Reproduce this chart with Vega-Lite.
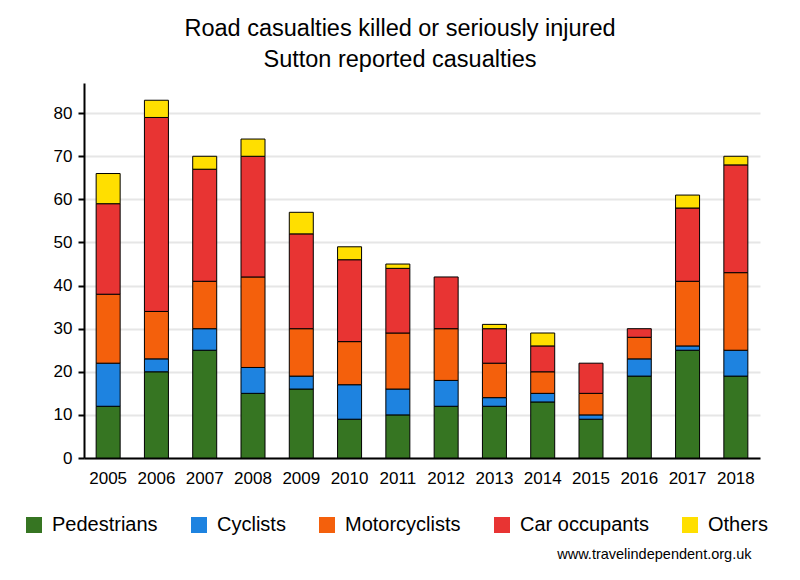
{
  "$schema": "https://vega.github.io/schema/vega-lite/v6.json",
  "width": 676,
  "height": 375,
  "autosize": "none",
  "padding": {"left": 84, "top": 83, "right": 40, "bottom": 122},
  "background": "white",
  "title": {
    "text": ["Road casualties killed or seriously injured", "Sutton reported casualties"],
    "font": "Liberation Sans",
    "fontSize": 23.5,
    "fontWeight": "normal",
    "color": "black",
    "lineHeight": 31,
    "anchor": "middle",
    "dx": -22,
    "offset": 12
  },
  "datasets": {
    "ranks": [
      {"type": "Pedestrians", "rank": 1},
      {"type": "Cyclists", "rank": 2},
      {"type": "Motorcyclists", "rank": 3},
      {"type": "Car occupants", "rank": 4},
      {"type": "Others", "rank": 5}
    ]
  },
  "data": {
    "values": [
      {"year": "2005", "type": "Pedestrians", "n": 12}, {"year": "2005", "type": "Cyclists", "n": 10}, {"year": "2005", "type": "Motorcyclists", "n": 16}, {"year": "2005", "type": "Car occupants", "n": 21}, {"year": "2005", "type": "Others", "n": 7},
      {"year": "2006", "type": "Pedestrians", "n": 20}, {"year": "2006", "type": "Cyclists", "n": 3}, {"year": "2006", "type": "Motorcyclists", "n": 11}, {"year": "2006", "type": "Car occupants", "n": 45}, {"year": "2006", "type": "Others", "n": 4},
      {"year": "2007", "type": "Pedestrians", "n": 25}, {"year": "2007", "type": "Cyclists", "n": 5}, {"year": "2007", "type": "Motorcyclists", "n": 11}, {"year": "2007", "type": "Car occupants", "n": 26}, {"year": "2007", "type": "Others", "n": 3},
      {"year": "2008", "type": "Pedestrians", "n": 15}, {"year": "2008", "type": "Cyclists", "n": 6}, {"year": "2008", "type": "Motorcyclists", "n": 21}, {"year": "2008", "type": "Car occupants", "n": 28}, {"year": "2008", "type": "Others", "n": 4},
      {"year": "2009", "type": "Pedestrians", "n": 16}, {"year": "2009", "type": "Cyclists", "n": 3}, {"year": "2009", "type": "Motorcyclists", "n": 11}, {"year": "2009", "type": "Car occupants", "n": 22}, {"year": "2009", "type": "Others", "n": 5},
      {"year": "2010", "type": "Pedestrians", "n": 9}, {"year": "2010", "type": "Cyclists", "n": 8}, {"year": "2010", "type": "Motorcyclists", "n": 10}, {"year": "2010", "type": "Car occupants", "n": 19}, {"year": "2010", "type": "Others", "n": 3},
      {"year": "2011", "type": "Pedestrians", "n": 10}, {"year": "2011", "type": "Cyclists", "n": 6}, {"year": "2011", "type": "Motorcyclists", "n": 13}, {"year": "2011", "type": "Car occupants", "n": 15}, {"year": "2011", "type": "Others", "n": 1},
      {"year": "2012", "type": "Pedestrians", "n": 12}, {"year": "2012", "type": "Cyclists", "n": 6}, {"year": "2012", "type": "Motorcyclists", "n": 12}, {"year": "2012", "type": "Car occupants", "n": 12},
      {"year": "2013", "type": "Pedestrians", "n": 12}, {"year": "2013", "type": "Cyclists", "n": 2}, {"year": "2013", "type": "Motorcyclists", "n": 8}, {"year": "2013", "type": "Car occupants", "n": 8}, {"year": "2013", "type": "Others", "n": 1},
      {"year": "2014", "type": "Pedestrians", "n": 13}, {"year": "2014", "type": "Cyclists", "n": 2}, {"year": "2014", "type": "Motorcyclists", "n": 5}, {"year": "2014", "type": "Car occupants", "n": 6}, {"year": "2014", "type": "Others", "n": 3},
      {"year": "2015", "type": "Pedestrians", "n": 9}, {"year": "2015", "type": "Cyclists", "n": 1}, {"year": "2015", "type": "Motorcyclists", "n": 5}, {"year": "2015", "type": "Car occupants", "n": 7},
      {"year": "2016", "type": "Pedestrians", "n": 19}, {"year": "2016", "type": "Cyclists", "n": 4}, {"year": "2016", "type": "Motorcyclists", "n": 5}, {"year": "2016", "type": "Car occupants", "n": 2},
      {"year": "2017", "type": "Pedestrians", "n": 25}, {"year": "2017", "type": "Cyclists", "n": 1}, {"year": "2017", "type": "Motorcyclists", "n": 15}, {"year": "2017", "type": "Car occupants", "n": 17}, {"year": "2017", "type": "Others", "n": 3},
      {"year": "2018", "type": "Pedestrians", "n": 19}, {"year": "2018", "type": "Cyclists", "n": 6}, {"year": "2018", "type": "Motorcyclists", "n": 18}, {"year": "2018", "type": "Car occupants", "n": 25}, {"year": "2018", "type": "Others", "n": 2}
    ]
  },
  "transform": [
    {"lookup": "type", "from": {"data": {"name": "ranks"}, "key": "type", "fields": ["rank"]}}
  ],
  "mark": {"type": "bar", "stroke": "black", "strokeWidth": 1, "width": 24},
  "encoding": {
    "x": {
      "field": "year",
      "type": "ordinal",
      "scale": {"paddingInner": 0.5, "paddingOuter": 0.25},
      "axis": {
        "labelAngle": 0,
        "labelFont": "Liberation Sans",
        "labelFontSize": 17,
        "labelColor": "black",
        "labelPadding": 12,
        "ticks": false,
        "domainColor": "black",
        "domainWidth": 2,
        "title": "www.travelindependent.org.uk",
        "titleFont": "Liberation Sans",
        "titleFontSize": 14.5,
        "titleFontWeight": "normal",
        "titleColor": "black",
        "titleAnchor": "end",
        "titleAlign": "right",
        "titleBaseline": "alphabetic",
        "titleX": 667,
        "titleY": 100
      }
    },
    "y": {
      "field": "n",
      "type": "quantitative",
      "stack": "zero",
      "scale": {"domain": [0, 87], "nice": false},
      "axis": {
        "values": [0, 10, 20, 30, 40, 50, 60, 70, 80],
        "title": null,
        "labelFont": "Liberation Sans",
        "labelFontSize": 17,
        "labelColor": "black",
        "labelPadding": 6,
        "tickColor": "black",
        "tickWidth": 2,
        "tickSize": 6,
        "domainColor": "black",
        "domainWidth": 2,
        "gridColor": "#e6e6e6",
        "gridWidth": 2
      }
    },
    "color": {
      "field": "type",
      "type": "nominal",
      "scale": {
        "domain": ["Pedestrians", "Cyclists", "Motorcyclists", "Car occupants", "Others"],
        "range": ["#367522", "#1e83e0", "#f4600c", "#e83433", "#ffdf00"]
      },
      "legend": {
        "title": null,
        "orient": "none",
        "legendX": -60,
        "legendY": 432,
        "direction": "horizontal",
        "symbolType": "square",
        "symbolSize": 256,
        "symbolStrokeWidth": 0,
        "labelFont": "Liberation Sans",
        "labelFontSize": 20,
        "labelColor": "black",
        "labelOffset": 8,
        "columnPadding": 31
      }
    },
    "order": {"field": "rank", "type": "quantitative", "sort": "ascending"}
  },
  "config": {"view": {"stroke": null}}
}
